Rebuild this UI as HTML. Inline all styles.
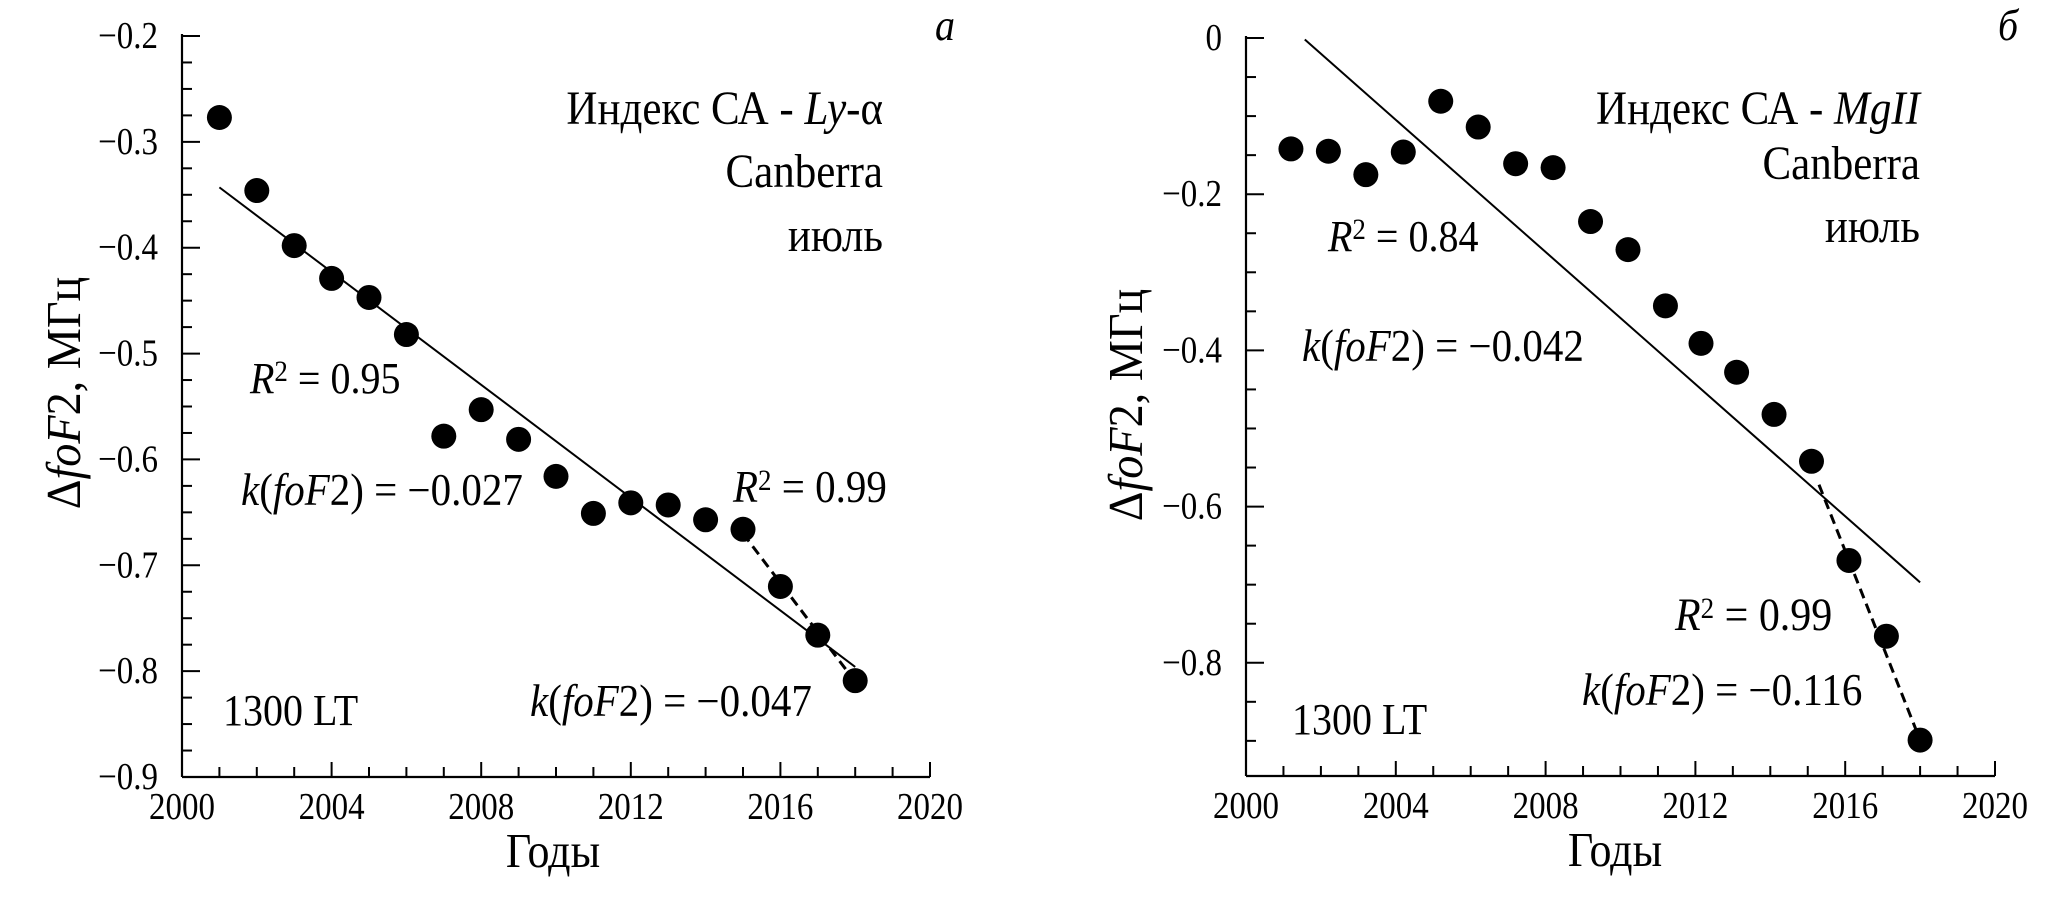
<!DOCTYPE html>
<html><head><meta charset="utf-8"><style>
html,body{margin:0;padding:0;background:#fff;}
svg{display:block;font-family:"Liberation Serif",serif;}
</style></head><body>
<svg id="chart" width="2071" height="900" viewBox="0 0 2071 900" xmlns="http://www.w3.org/2000/svg"></svg>
<script>
// Panel a data (Ly-alpha)
const yearsA = [2001,2002,2003,2004,2005,2006,2007,2008,2009,2010,2011,2012,2013,2014,2015,2016,2017,2018];
const valuesA = [-0.277,-0.346,-0.398,-0.429,-0.447,-0.482,-0.578,-0.553,-0.581,-0.616,-0.651,-0.641,-0.643,-0.657,-0.666,-0.720,-0.766,-0.809];
const trendA = [[2001,-0.343],[2018,-0.796]];
const dashA = [[2015,-0.67],[2018,-0.81]];
const yTicksA = [-0.2,-0.3,-0.4,-0.5,-0.6,-0.7,-0.8,-0.9];
// Panel b data (MgII)
const yearsB = [2001.2,2002.2,2003.2,2004.2,2005.2,2006.2,2007.2,2008.2,2009.2,2010.2,2011.2,2012.15,2013.1,2014.1,2015.1,2016.1,2017.1,2018.0];
const valuesB = [-0.142,-0.145,-0.175,-0.146,-0.081,-0.114,-0.161,-0.166,-0.235,-0.271,-0.343,-0.391,-0.428,-0.482,-0.542,-0.669,-0.766,-0.899];
const trendB = [[2001.57,-0.002],[2018.0,-0.697]];
const dashB = [[2015.3,-0.572],[2018.0,-0.899]];
const yTicksB = [0,-0.2,-0.4,-0.6,-0.8];
const xTicks = [2000,2004,2008,2012,2016,2020];

const NS="http://www.w3.org/2000/svg";
const svg=document.getElementById('chart');
function mk(tag,attrs,parent){const e=document.createElementNS(NS,tag);for(const k in attrs)e.setAttribute(k,attrs[k]);(parent||svg).appendChild(e);return e;}
function fmt(v){return v===0?'0':'\u2212'+Math.abs(v).toFixed(1);}

function panel(cfg){
  const g=mk('g',{});
  
  
  const X=yr=>cfg.x0+(yr-2000)/20*(cfg.x1-cfg.x0);
  const Y=v=>cfg.yTop+(cfg.vTop-v)/(cfg.vTop-cfg.vBot)*(cfg.yBot-cfg.yTop);
  const axY=mk('line',{x1:cfg.x0,y1:Y(cfg.vTop)-2,x2:cfg.x0,y2:cfg.yBot,stroke:'#000','stroke-width':2.2},g);
  
  
  const axX=mk('line',{x1:cfg.x0,y1:cfg.yBot,x2:cfg.x1,y2:cfg.yBot,stroke:'#000','stroke-width':2.2},g);
  
  
  for(let v=cfg.vTop;v>=cfg.vBot-1e-9;v-=cfg.minor){
    const isMaj=cfg.yTicks.some(t=>Math.abs(t-v)<1e-6);
    const t=mk('line',{x1:cfg.x0,y1:Y(v),x2:cfg.x0+(isMaj?18:10),y2:Y(v),stroke:'#000','stroke-width':2},g);
    
    
  }
  cfg.yTicks.forEach(v=>{
    const t=mk('text',{x:0,y:0,transform:`translate(${cfg.x0-24},${Y(v)+12}) scale(1,1.15)`,'text-anchor':'end','font-size':33},g);
    t.textContent=fmt(v);
    
    
  });
  for(let yr=2000;yr<=2020;yr++){
    const isMaj=yr%4===0;
    const t=mk('line',{x1:X(yr),y1:cfg.yBot,x2:X(yr),y2:cfg.yBot-(isMaj?15:10),stroke:'#000','stroke-width':2},g);
    
    
  }
  xTicks.forEach(yr=>{
    const t=mk('text',{x:0,y:0,transform:`translate(${X(yr)},${cfg.yBot+42}) scale(1,1.15)`,'text-anchor':'middle','font-size':33},g);
    t.textContent=yr;
    
    
  });
  const tr=mk('line',{x1:X(cfg.trend[0][0]),y1:Y(cfg.trend[0][1]),x2:X(cfg.trend[1][0]),y2:Y(cfg.trend[1][1]),stroke:'#000','stroke-width':2},g);
  
  
  const dl=mk('line',{x1:X(cfg.dash[0][0]),y1:Y(cfg.dash[0][1]),x2:X(cfg.dash[1][0]),y2:Y(cfg.dash[1][1]),stroke:'#000','stroke-width':3,'stroke-dasharray':'10,6'},g);
  
  
  cfg.years.forEach((yr,i)=>{
    const c=mk('circle',{cx:X(yr),cy:Y(cfg.values[i]),r:12.5,fill:'#000'},g);
    
    
  });
  const xt=mk('text',{x:0,y:0,transform:`translate(${cfg.xTitleX},${cfg.yBot+90}) scale(1,1.1)`,'text-anchor':'middle','font-size':44},g);
  xt.textContent='Годы';
  
  
  const yt=mk('text',{x:0,y:0,'text-anchor':'middle','font-size':44,transform:`translate(${cfg.yTitleX},${cfg.yTitleY}) rotate(-90) scale(1.05,1.1)`},g);
  yt.innerHTML='Δ<tspan font-style="italic">foF</tspan>2, МГц';
  
  
  cfg.labels.forEach(l=>{
    const t=mk('text',{x:0,y:0,transform:`translate(${l.x},${l.y+14}) scale(1,1.1)`,'text-anchor':l.anchor||'start','font-size':l.size||40,'font-style':l.italic?'italic':'normal'},g);
    t.innerHTML=l.html;
    
    
  });
}

const kHtml=v=>'<tspan font-style="italic">k</tspan>(<tspan font-style="italic">foF</tspan>2) = \u2212'+v;
const rHtml=v=>'<tspan font-style="italic">R</tspan><tspan font-size="27" dy="-11">2</tspan><tspan dy="11"> = '+v+'</tspan>';

panel({name:'panel-a',x0:182,x1:930,yTop:36,yBot:777,vTop:-0.2,vBot:-0.9,minor:0.025,yTicks:yTicksA,
  years:yearsA,values:valuesA,trend:trendA,dash:dashA,xTitleX:553,yTitleX:80,yTitleY:393,
  labels:[
    {name:'panel-letter',x:945,y:26,html:'a',italic:true,anchor:'middle',size:40},
    {name:'index-label',x:883,y:110,html:'Индекс СА - <tspan font-style="italic">Ly</tspan>-α',anchor:'end',size:43},
    {name:'station-label',x:883,y:173,html:'Canberra',anchor:'end',size:43},
    {name:'month-label',x:883,y:237,html:'июль',anchor:'end',size:43},
    {name:'r2-main',x:250,y:379,html:rHtml('0.95')},
    {name:'k-main',x:241,y:491,html:kHtml('0.027'),size:41},
    {name:'r2-dashed',x:733,y:488,html:rHtml('0.99'),size:41},
    {name:'k-dashed',x:530,y:702,html:kHtml('0.047'),size:41},
    {name:'time-label',x:223,y:711,html:'1300 LT'}
  ]});
panel({name:'panel-b',x0:1246,x1:1995,yTop:38,yBot:776,vTop:0,vBot:-0.945,minor:0.05,yTicks:yTicksB,
  years:yearsB,values:valuesB,trend:trendB,dash:dashB,xTitleX:1615,yTitleX:1142,yTitleY:405,
  labels:[
    {name:'panel-letter',x:2008,y:26,html:'б',italic:true,anchor:'middle',size:40},
    {name:'index-label',x:1920,y:110,html:'Индекс СА - <tspan font-style="italic">MgII</tspan>',anchor:'end',size:43},
    {name:'station-label',x:1920,y:165,html:'Canberra',anchor:'end',size:43},
    {name:'month-label',x:1920,y:228,html:'июль',anchor:'end',size:43},
    {name:'r2-main',x:1328,y:237,html:rHtml('0.84')},
    {name:'k-main',x:1302,y:347,html:kHtml('0.042'),size:41},
    {name:'r2-dashed',x:1675,y:616,html:rHtml('0.99'),size:42},
    {name:'k-dashed',x:1582,y:691,html:kHtml('0.116'),size:41},
    {name:'time-label',x:1292,y:720,html:'1300 LT'}
  ]});
</script>
</body></html>
